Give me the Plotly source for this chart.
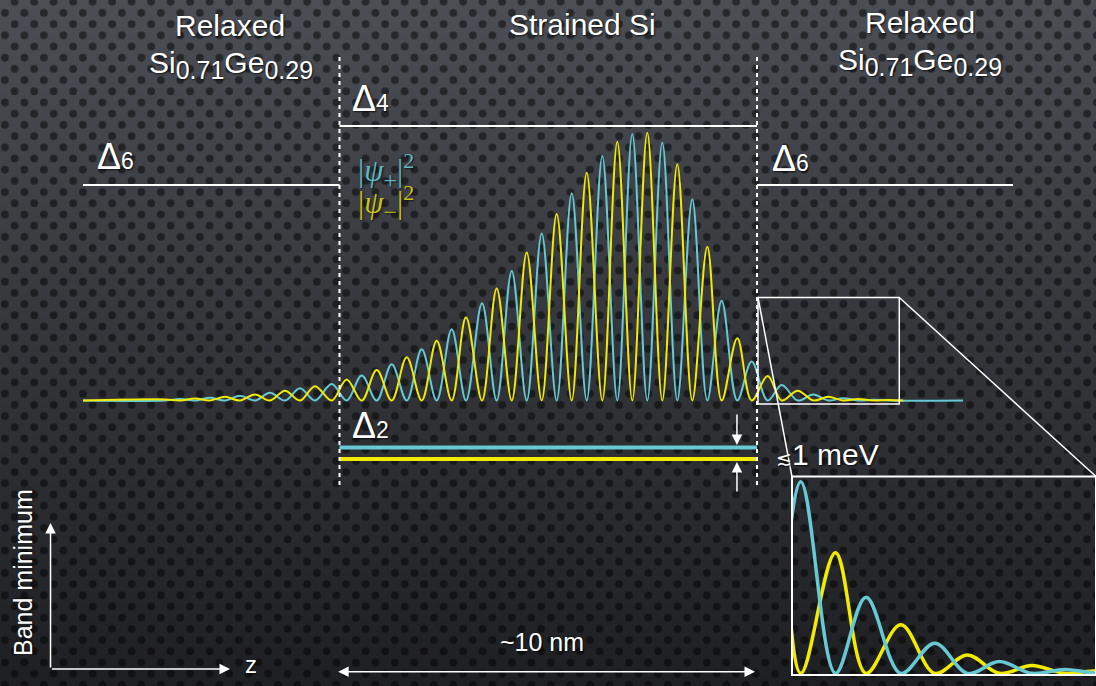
import base64
import plotly.graph_objects as go

W, H = 1096, 686

# ---------------- coordinate frame (z in nm, E in arbitrary units) ----------------
X_RANGE = [-8.132, 18.120]
Y_RANGE = [-1.069, 1.500]

# ---------------- band structure schematic ----------------
WELL_EDGES = [0.0, 10.0]
DASH_SPAN_E = [-0.3165, 1.294]
DELTA6_LEFT_Z = [-6.144, 0.0]
DELTA6_RIGHT_Z = [10.0, 16.132]
DELTA6_E = 0.807
DELTA4_E = 1.028
DELTA2_PLUS_E = -0.176
DELTA2_MINUS_E = -0.219

# ---------------- |psi|^2 peaks ----------------
CYAN_PEAK_Z = [-3.820, -3.102, -2.383, -1.665, -0.946, -0.187, 0.532, 1.250, 1.969,
               2.687, 3.413, 4.125, 4.843, 5.562, 6.295, 7.013, 7.732, 8.450, 9.154,
               9.873, 10.592, 11.349, 12.060, 12.780]
CYAN_PEAK_H = [0.006, 0.010, 0.018, 0.029, 0.046, 0.062, 0.094, 0.136, 0.192,
               0.267, 0.364, 0.485, 0.626, 0.776, 0.916, 0.998, 0.966, 0.754, 0.374,
               0.146, 0.058, 0.023, 0.009, 0.003]
YELLOW_PEAK_Z = [-4.180, -3.461, -2.743, -2.024, -1.305, -0.587, 0.172, 0.891, 1.610,
                 2.328, 3.030, 3.765, 4.484, 5.202, 5.921, 6.654, 7.372, 8.091, 8.810,
                 9.528, 10.256, 10.975, 11.708, 12.419, 13.140]
YELLOW_PEAK_H = [0.004, 0.008, 0.014, 0.023, 0.037, 0.054, 0.079, 0.114, 0.162,
                 0.224, 0.312, 0.420, 0.554, 0.699, 0.853, 0.969, 1.003, 0.885, 0.576,
                 0.233, 0.092, 0.037, 0.014, 0.006, 0.002]
CYAN_SPAN = [-6.144, 14.934]
YELLOW_SPAN = [-6.144, 13.500]

# ---------------- zoom / inset ----------------
ZOOM_BOX_Z = [10.024, 13.408]
ZOOM_BOX_E = [-0.013, 0.386]
INSET_FRAME_Z = [10.838, 18.120]
INSET_FRAME_E = [-1.028, -0.2846]
INSET_Z_RANGE = [9.777, 13.125]
INSET_H_RANGE = [-0.0013, 0.150]

CYAN = "#66c9d3"
YELLOW = "#f2ea00"
WHITE = "#ffffff"
SANS = "Liberation Sans, Arial, sans-serif"
SERIF = "Liberation Serif, DejaVu Serif, serif"
SHADOW = "1px 1px 2px rgba(0,0,0,0.75)"


def curve(own_z, own_h, other_z, span):
    pts = [(z, h) for z, h in zip(own_z, own_h)] + [(z, 0.0) for z in other_z]
    pts = [p for p in pts if span[0] < p[0] < span[1]]
    pts.sort()
    xs = [span[0]] + [p[0] for p in pts] + [span[1]]
    ys = [0.0] + [p[1] for p in pts] + [0.0]
    return xs, ys


cx, cy = curve(CYAN_PEAK_Z, CYAN_PEAK_H, YELLOW_PEAK_Z, CYAN_SPAN)
yx, yy = curve(YELLOW_PEAK_Z, YELLOW_PEAK_H, CYAN_PEAK_Z, YELLOW_SPAN)

fig = go.Figure()
# main panel: cyan below, yellow on top
fig.add_trace(go.Scatter(x=cx, y=cy, mode="lines", line=dict(color=CYAN, width=2, shape="spline", smoothing=1),
                         hoverinfo="skip", showlegend=False))
fig.add_trace(go.Scatter(x=yx, y=yy, mode="lines", line=dict(color=YELLOW, width=2, shape="spline", smoothing=1),
                         hoverinfo="skip", showlegend=False))
# inset: yellow below, cyan on top
fig.add_trace(go.Scatter(x=yx, y=yy, mode="lines", xaxis="x2", yaxis="y2",
                         line=dict(color=YELLOW, width=3.5, shape="spline", smoothing=1),
                         hoverinfo="skip", showlegend=False))
fig.add_trace(go.Scatter(x=cx, y=cy, mode="lines", xaxis="x2", yaxis="y2",
                         line=dict(color=CYAN, width=3.5, shape="spline", smoothing=1),
                         hoverinfo="skip", showlegend=False))


def px_frac(v, rng):
    return (v - rng[0]) / (rng[1] - rng[0])


inset_dom_x = [px_frac(INSET_FRAME_Z[0], X_RANGE), min(1.0, px_frac(INSET_FRAME_Z[1], X_RANGE))]
inset_dom_y = [px_frac(INSET_FRAME_E[0], Y_RANGE), px_frac(INSET_FRAME_E[1], Y_RANGE)]

shapes = []


def line(x0, y0, x1, y1, color=WHITE, width=2, dash="solid", xref="x", yref="y"):
    shapes.append(dict(type="line", x0=x0, y0=y0, x1=x1, y1=y1, xref=xref, yref=yref,
                       line=dict(color=color, width=width, dash=dash)))


# band edges
line(DELTA6_LEFT_Z[0], DELTA6_E, DELTA6_LEFT_Z[1], DELTA6_E)
line(DELTA6_RIGHT_Z[0], DELTA6_E, DELTA6_RIGHT_Z[1], DELTA6_E)
line(WELL_EDGES[0], DELTA4_E, WELL_EDGES[1], DELTA4_E)
line(WELL_EDGES[0], DELTA2_PLUS_E, WELL_EDGES[1], DELTA2_PLUS_E, color=CYAN, width=4)
line(WELL_EDGES[0], DELTA2_MINUS_E, WELL_EDGES[1], DELTA2_MINUS_E, color=YELLOW, width=4)
for zw in WELL_EDGES:
    line(zw, DASH_SPAN_E[0], zw, DASH_SPAN_E[1], width=2, dash="4px,4px")

# zoom box and connectors
shapes.append(dict(type="rect", x0=ZOOM_BOX_Z[0], x1=ZOOM_BOX_Z[1], y0=ZOOM_BOX_E[0], y1=ZOOM_BOX_E[1],
                   xref="x", yref="y", line=dict(color=WHITE, width=1.5)))
line(ZOOM_BOX_Z[0], ZOOM_BOX_E[1], INSET_FRAME_Z[0], INSET_FRAME_E[1], width=1.5)
line(ZOOM_BOX_Z[1], ZOOM_BOX_E[1], INSET_FRAME_Z[1], INSET_FRAME_E[1], width=1.5)
shapes.append(dict(type="rect", x0=0, x1=1, y0=0, y1=1, xref="x2 domain", yref="y2 domain",
                   line=dict(color=WHITE, width=2)))

ann = []


def text(x, y, s, size, color=WHITE, xanchor="center", yanchor="middle", family=SANS, angle=0):
    ann.append(dict(x=x, y=y, xref="x", yref="y", text=s, showarrow=False, xanchor=xanchor,
                    yanchor=yanchor, textangle=angle,
                    font=dict(family=family, size=size, color=color, shadow=SHADOW)))


def arrow(x, y, ax, ay, both=False, size=1.4, width=1.5):
    d = dict(x=x, y=y, ax=ax, ay=ay, xref="x", yref="y", axref="x", ayref="y", text="",
             showarrow=True, arrowhead=2, arrowsize=size, arrowwidth=width, arrowcolor=WHITE,
             standoff=0, startstandoff=0)
    if both:
        d["arrowside"] = "end+start"
        d["startarrowhead"] = 2
        d["startarrowsize"] = size
    ann.append(d)


SUB = "<sub><span style='font-size:25px'>{}</span></sub>"
sige = "Si" + SUB.format("0.71") + "Ge" + SUB.format("0.29")

text(-2.623, 1.4045, "Relaxed", 30)
text(-2.611, 1.255, sige, 30)
text(5.820, 1.4064, "Strained Si", 30)
text(13.904, 1.4176, "Relaxed", 30)
text(13.916, 1.268, sige, 30)

DELTA = "Δ<span style='font-size:23px'>{}</span>"
text(0.2515, 1.1318, DELTA.format("4"), 36, xanchor="left")
text(-5.856, 0.913, DELTA.format("6"), 36, xanchor="left")
text(10.311, 0.908, DELTA.format("6"), 36, xanchor="left")
text(0.2515, -0.0936, DELTA.format("2"), 36, xanchor="left")

PSI_P = "|<i>ψ</i><sub><span style='font-size:24px'>+</span></sub>|<sup><span style='font-size:22px'>2</span></sup>"
PSI_M = "|<i>ψ</i><sub><span style='font-size:24px'>−</span></sub>|<sup><span style='font-size:22px'>2</span></sup>"
text(0.40, 0.862, PSI_P, 31, color="#5fb9c2", xanchor="left", family=SERIF)
text(0.40, 0.740, PSI_M, 31, color="#cbc21a", xanchor="left", family=SERIF)

text(10.41, -0.2004, "<span style='font-size:19px'>≲</span>1 meV", 30, xanchor="left")
text(4.850, -0.9026, "~10 nm", 25)
text(-2.120, -0.987, "z", 24)
text(-7.593, -0.644, "Band minimum", 25, angle=-90)

# arrows
arrow(9.52, -0.1667, 9.52, -0.0468)
arrow(9.52, -0.2303, 9.52, -0.3464)
arrow(9.952, -1.0157, -0.067, -1.0157, both=True)
arrow(-6.922, -0.4588, -6.922, -1.0056)
arrow(-2.623, -1.0056, -6.922, -1.0056)

# background: gradient with perforated dots
svg = f"""<svg xmlns='http://www.w3.org/2000/svg' width='{W}' height='{H}' viewBox='0 0 {W} {H}'>
<defs>
<linearGradient id='g' x1='0' y1='0' x2='0' y2='1'>
<stop offset='0' stop-color='#4b4e55'/>
<stop offset='0.45' stop-color='#36383d'/>
<stop offset='1' stop-color='#1e1f22'/>
</linearGradient>
<pattern id='p' x='0' y='7.3' width='19.5' height='22.4' patternUnits='userSpaceOnUse'>
<circle cx='4.875' cy='5.6' r='3.9' fill='#000' fill-opacity='0.48'/>
<circle cx='14.625' cy='16.8' r='3.9' fill='#000' fill-opacity='0.48'/>
</pattern>
</defs>
<rect x='0' y='0' width='{W}' height='{H}' fill='url(#g)'/>
<rect x='0' y='0' width='{W}' height='{H}' fill='url(#p)'/>
</svg>"""
bg_src = "data:image/svg+xml;base64," + base64.b64encode(svg.encode("utf-8")).decode("ascii")

fig.update_layout(
    width=W, height=H, autosize=False,
    margin=dict(l=0, r=0, t=0, b=0, pad=0),
    paper_bgcolor="#2e3035", plot_bgcolor="rgba(0,0,0,0)",
    xaxis=dict(range=X_RANGE, domain=[0, 1], visible=False, fixedrange=True),
    yaxis=dict(range=Y_RANGE, domain=[0, 1], visible=False, fixedrange=True),
    xaxis2=dict(range=INSET_Z_RANGE, domain=inset_dom_x, anchor="y2", visible=False, fixedrange=True),
    yaxis2=dict(range=INSET_H_RANGE, domain=inset_dom_y, anchor="x2", visible=False, fixedrange=True),
    shapes=shapes, annotations=ann,
    images=[dict(source=bg_src, xref="paper", yref="paper", x=0, y=1, sizex=1, sizey=1,
                 xanchor="left", yanchor="top", sizing="stretch", layer="below")],
    showlegend=False,
)

fig.write_html("out.html")
